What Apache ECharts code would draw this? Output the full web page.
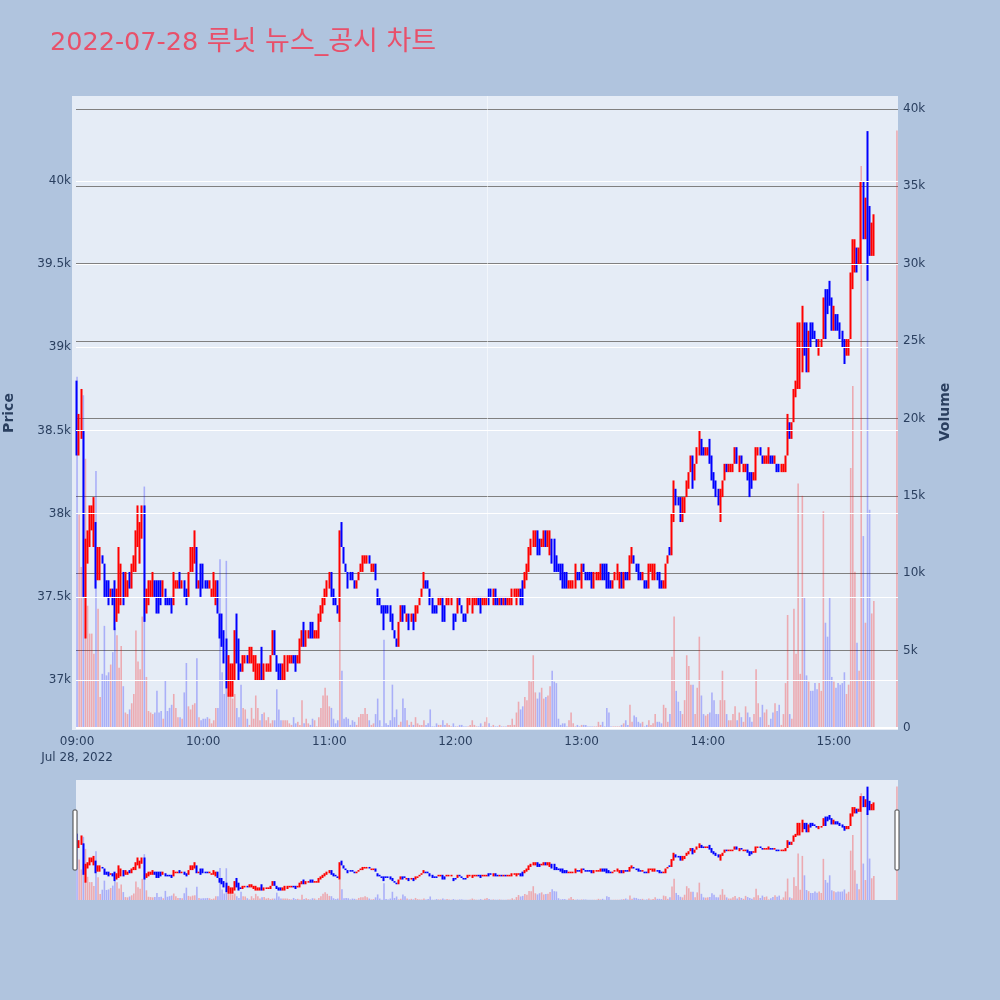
<!DOCTYPE html>
<html><head><meta charset="utf-8">
<script src="https://cdn.jsdelivr.net/npm/echarts@6/dist/echarts.min.js"></script>
<style>html,body{margin:0;padding:0;background:#b0c4de;}#chart{width:1000px;height:1000px;}</style>
</head><body><div id="chart"></div>
<script>
const titleDate = '2022-07-28';
const titleRest = ' 루닛 뉴스_공시 차트';
const dateLabel = 'Jul 28, 2022';
const sessionStartHour = 9, sessionEndHour = 15, sessionEndMinute = 30;
const priceTicks = [37000, 37500, 38000, 38500, 39000, 39500, 40000];
const newsTime = '12:15';

// per-minute candles [open, close, low, high]
const ohlc09 = [
[38750,38350,38350,38800],[38400,38600,38350,38600],[38450,38750,38450,38750],[38500,37500,37500,38500],[37550,37850,37250,37850],
[37750,37900,37700,37900],[37800,38050,37800,38050],[37950,38050,37900,38050],[37800,38100,37800,38100],[37950,37550,37550,37950],
[37600,37800,37600,37800],[37600,37800,37600,37800],[37750,37700,37700,37750],[37700,37500,37500,37700],[37600,37500,37500,37600],
[37600,37500,37450,37600],[37500,37550,37500,37550],[37550,37450,37450,37550],[37600,37300,37300,37600],[37350,37550,37350,37550],
[37400,37800,37400,37800],[37450,37700,37450,37700],[37650,37450,37450,37650],[37500,37650,37500,37650],[37500,37600,37500,37600],
[37650,37550,37550,37650],[37550,37700,37550,37700],[37650,37750,37650,37750],[37650,37900,37650,37900],[37800,38050,37800,38050],
[37700,37950,37700,37950],[37850,38050,37850,38050],[38050,37350,37350,38050],[37400,37550,37400,37550],[37450,37600,37450,37600],
[37500,37600,37500,37600],[37500,37650,37500,37650],[37600,37500,37500,37600],[37600,37400,37400,37600],[37600,37400,37400,37600],
[37600,37450,37450,37600],[37500,37600,37500,37600],[37550,37450,37450,37550],[37500,37450,37450,37500],[37500,37450,37450,37500],
[37500,37400,37400,37500],[37450,37650,37450,37650],[37550,37600,37550,37600],[37550,37600,37550,37600],[37650,37550,37550,37650],
[37550,37600,37550,37600],[37600,37500,37500,37600],[37550,37450,37450,37550],[37500,37650,37500,37650],[37650,37800,37650,37800],
[37650,37800,37650,37800],[37700,37900,37700,37900],[37800,37550,37550,37800],[37550,37600,37550,37600],[37700,37500,37500,37700]];
const ohlc10 = [
[37700,37550,37550,37700],[37600,37550,37550,37600],[37600,37550,37550,37600],[37550,37600,37550,37600],[37500,37550,37500,37550],
[37500,37650,37500,37650],[37450,37600,37450,37600],[37600,37400,37400,37600],[37400,37250,37250,37400],[37400,37200,37200,37400],
[37300,37100,37100,37300],[37250,36950,36950,37250],[36900,37150,36900,37150],[36900,37100,36900,37100],[36900,37100,36900,37100],
[37000,37300,37000,37300],[37400,37100,37100,37400],[37250,37000,37000,37250],[37100,37050,37050,37100],[37050,37150,37050,37150],
[37100,37150,37100,37150],[37150,37100,37100,37150],[37100,37200,37100,37200],[37100,37200,37100,37200],[37050,37150,37050,37150],
[37000,37150,37000,37150],[37000,37100,37000,37100],[37000,37100,37000,37100],[37200,37000,37000,37200],[37000,37100,37000,37100],
[37050,37100,37050,37100],[37050,37100,37050,37100],[37050,37150,37050,37150],[37150,37300,37150,37300],[37300,37150,37150,37300],
[37150,37050,37050,37150],[37100,37000,37000,37100],[37100,37000,37000,37100],[37000,37100,37000,37100],[37000,37150,37000,37150],
[37050,37150,37050,37150],[37100,37150,37100,37150],[37100,37150,37100,37150],[37150,37100,37100,37150],[37150,37050,37050,37150],
[37100,37150,37100,37150],[37100,37250,37100,37250],[37200,37300,37200,37300],[37350,37200,37200,37350],[37200,37300,37200,37300],
[37250,37300,37250,37300],[37350,37250,37250,37350],[37350,37250,37250,37350],[37250,37300,37250,37300],[37250,37300,37250,37300],
[37250,37400,37250,37400],[37350,37450,37350,37450],[37400,37500,37400,37500],[37450,37550,37450,37550],[37500,37600,37500,37600]];
const ohlc11 = [
[37550,37650,37550,37650],[37650,37500,37500,37650],[37550,37450,37450,37550],[37500,37450,37450,37500],[37450,37400,37400,37450],
[37350,37900,37350,37900],[37950,37800,37800,37950],[37800,37700,37700,37800],[37700,37650,37650,37700],[37650,37550,37550,37650],
[37650,37600,37600,37650],[37650,37600,37600,37650],[37600,37550,37550,37600],[37550,37600,37550,37600],[37600,37650,37600,37650],
[37650,37700,37650,37700],[37650,37750,37650,37750],[37700,37750,37700,37750],[37700,37750,37700,37750],[37750,37700,37700,37750],
[37650,37700,37650,37700],[37650,37700,37650,37700],[37700,37600,37600,37700],[37550,37450,37450,37550],[37500,37450,37450,37500],
[37450,37400,37400,37450],[37450,37300,37300,37450],[37450,37400,37400,37450],[37450,37400,37400,37450],[37450,37350,37350,37450],
[37400,37300,37300,37400],[37300,37250,37250,37300],[37250,37200,37200,37250],[37200,37350,37200,37350],[37350,37450,37350,37450],
[37450,37350,37350,37450],[37450,37400,37400,37450],[37350,37400,37350,37400],[37400,37300,37300,37400],[37350,37400,37350,37400],
[37400,37300,37300,37400],[37350,37450,37350,37450],[37400,37450,37400,37450],[37450,37500,37450,37500],[37500,37550,37500,37550],
[37550,37650,37550,37650],[37600,37550,37550,37600],[37600,37550,37550,37600],[37550,37450,37450,37550],[37500,37400,37400,37500],
[37450,37400,37400,37450],[37450,37400,37400,37450],[37450,37500,37450,37500],[37450,37500,37450,37500],[37500,37350,37350,37500],
[37450,37350,37350,37450],[37450,37500,37450,37500],[37450,37500,37450,37500],[37450,37500,37450,37500],[37400,37300,37300,37400]];
const ohlc12 = [
[37400,37350,37350,37400],[37400,37500,37400,37500],[37500,37450,37450,37500],[37450,37400,37400,37450],[37400,37350,37350,37400],
[37400,37350,37350,37400],[37400,37500,37400,37500],[37450,37500,37450,37500],[37400,37500,37400,37500],[37450,37500,37450,37500],
[37450,37500,37450,37500],[37500,37450,37450,37500],[37500,37400,37400,37500],[37450,37500,37450,37500],[37450,37500,37450,37500],
[37450,37500,37450,37500],[37550,37450,37450,37550],[37550,37500,37500,37550],[37450,37550,37450,37550],[37550,37450,37450,37550],
[37500,37450,37450,37500],[37450,37500,37450,37500],[37500,37450,37450,37500],[37450,37500,37450,37500],[37500,37450,37450,37500],
[37450,37500,37450,37500],[37450,37500,37450,37500],[37450,37550,37450,37550],[37500,37550,37500,37550],[37450,37550,37450,37550],
[37500,37550,37500,37550],[37550,37450,37450,37550],[37600,37450,37450,37600],[37550,37650,37550,37650],[37600,37700,37600,37700],
[37650,37800,37650,37800],[37750,37850,37750,37850],[37800,37900,37800,37900],[37800,37900,37800,37900],[37900,37750,37750,37900],
[37850,37750,37750,37850],[37800,37850,37800,37850],[37800,37900,37800,37900],[37900,37800,37800,37900],[37800,37900,37800,37900],
[37750,37900,37750,37900],[37850,37700,37700,37850],[37850,37650,37650,37850],[37750,37650,37650,37750],[37700,37650,37650,37700],
[37700,37600,37600,37700],[37700,37550,37550,37700],[37650,37550,37550,37650],[37650,37550,37550,37650],[37550,37600,37550,37600],
[37550,37600,37550,37600],[37550,37600,37550,37600],[37550,37700,37550,37700],[37650,37600,37600,37650],[37650,37600,37600,37650]];
const ohlc13 = [
[37550,37700,37550,37700],[37700,37650,37650,37700],[37650,37600,37600,37650],[37650,37600,37600,37650],[37650,37600,37600,37650],
[37650,37550,37550,37650],[37550,37650,37550,37650],[37600,37650,37600,37650],[37600,37650,37600,37650],[37600,37700,37600,37700],
[37700,37600,37600,37700],[37700,37600,37600,37700],[37700,37550,37550,37700],[37650,37550,37550,37650],[37600,37550,37550,37600],
[37550,37600,37550,37600],[37600,37650,37600,37650],[37600,37700,37600,37700],[37550,37650,37550,37650],[37650,37550,37550,37650],
[37550,37650,37550,37650],[37650,37600,37600,37650],[37650,37600,37600,37650],[37600,37750,37600,37750],[37700,37750,37700,37800],
[37750,37700,37700,37750],[37700,37650,37650,37700],[37700,37600,37600,37700],[37650,37600,37600,37650],[37600,37650,37600,37650],
[37600,37550,37550,37600],[37600,37550,37550,37600],[37550,37700,37550,37700],[37650,37700,37650,37700],[37600,37700,37600,37700],
[37600,37700,37600,37700],[37650,37600,37600,37650],[37650,37550,37550,37650],[37600,37550,37550,37600],[37550,37600,37550,37600],
[37550,37700,37550,37700],[37700,37750,37700,37750],[37800,37750,37750,37800],[37750,38000,37750,38000],[37950,38200,37950,38200],
[38150,38050,38050,38150],[38100,38050,38050,38100],[38100,37950,37950,38100],[37950,38100,37950,38100],[38000,38100,38000,38100],
[38100,38200,38100,38200],[38150,38250,38150,38250],[38250,38350,38250,38350],[38350,38150,38150,38350],[38200,38300,38200,38300],
[38300,38400,38300,38400],[38350,38500,38350,38500],[38450,38350,38350,38450],[38400,38350,38350,38400],[38350,38400,38350,38400]];
const ohlc14 = [
[38350,38400,38350,38400],[38450,38300,38300,38450],[38350,38200,38200,38350],[38250,38150,38150,38250],[38200,38100,38100,38200],
[38150,38050,38050,38150],[38000,38150,37950,38150],[38100,38200,38100,38200],[38200,38300,38200,38300],[38300,38250,38250,38300],
[38250,38300,38250,38300],[38250,38300,38250,38300],[38250,38300,38250,38300],[38300,38400,38300,38400],[38400,38300,38300,38400],
[38250,38350,38250,38350],[38350,38300,38300,38350],[38250,38300,38250,38300],[38250,38300,38250,38300],[38300,38200,38200,38300],
[38250,38100,38100,38250],[38250,38150,38150,38250],[38200,38250,38200,38250],[38200,38400,38200,38400],[38350,38400,38350,38400],
[38400,38350,38350,38400],[38350,38300,38300,38350],[38300,38350,38300,38350],[38300,38350,38300,38350],[38300,38400,38300,38400],
[38350,38300,38300,38350],[38350,38300,38300,38350],[38300,38350,38300,38350],[38300,38250,38250,38300],[38300,38250,38250,38300],
[38250,38300,38250,38300],[38250,38300,38250,38300],[38250,38350,38250,38350],[38350,38600,38350,38600],[38550,38450,38450,38550],
[38450,38550,38450,38550],[38550,38750,38550,38750],[38700,38800,38700,38800],[38750,39000,38750,39150],[38750,39150,38750,39150],
[38850,39250,38850,39250],[39150,38950,38950,39150],[39150,38850,38850,39150],[38850,39100,38850,39100],[39150,39000,39000,39150],
[39150,39050,39050,39150],[39100,39050,39050,39100],[39050,39000,39000,39050],[38950,39050,38950,39050],[39000,39050,39000,39050],
[39050,39300,39050,39300],[39350,39050,39050,39350],[39350,39200,39200,39350],[39300,39250,39250,39400],[39300,39100,39100,39300]];
const ohlc15 = [
[39100,39250,39100,39250],[39200,39100,39100,39200],[39200,39100,39100,39200],[39150,39050,39050,39150],[39100,39000,39000,39100],
[39050,38950,38900,39050],[38950,39050,38950,39050],[38950,39050,38950,39050],[39050,39450,39050,39450],[39350,39650,39350,39650],
[39450,39650,39450,39650],[39600,39450,39450,39600],[39500,39600,39500,39600],[39500,39950,39500,40000],[40000,39650,39650,40000],
[39650,39900,39650,39900],[39850,39400,39400,40300],[39850,39550,39550,39850],[39550,39750,39550,39750],[39550,39800,39550,39800]];
const closingAuctionTime = '15:30';
const closingAuction = [39950, 39950, 39950, 39950];

// per-minute volume, thousands of shares
const vol09 = [22.7,13.8,10.4,21.5,17.4,7.9,6.1,6.1,4.8,16.6,7.7,2.0,3.5,6.6,3.4,3.6,4.1,4.9,6.5,6.0,
3.9,5.3,2.7,1.0,0.9,1.2,1.6,2.2,6.3,4.3,3.8,7.2,15.6,3.3,1.1,1.0,0.9,1.0,2.4,1.0,
1.1,0.6,3.1,1.1,1.3,1.5,2.2,1.3,0.7,0.7,0.6,2.3,4.2,1.4,1.2,1.5,1.6,4.5,0.7,0.5];
const vol10 = [0.6,0.6,0.7,0.6,0.3,0.5,1.3,1.3,10.9,3.6,2.2,10.8,2.3,2.2,1.9,2.2,1.3,0.7,2.8,1.3,
1.2,0.6,0.2,1.3,0.6,2.1,1.3,0.5,0.9,1.0,0.5,0.7,0.3,0.5,0.5,2.5,1.2,0.5,0.5,0.5,
0.5,0.3,0.2,0.7,0.3,0.4,0.2,1.8,0.3,0.6,0.3,0.2,0.6,0.5,0.1,0.7,1.3,2.1,2.6,2.1];
const vol11 = [1.4,1.3,0.6,0.3,0.5,6.9,3.7,0.6,0.7,0.6,0.2,0.5,0.4,0.2,0.7,0.9,0.9,1.3,0.9,0.5,
0.2,0.3,0.9,1.9,0.5,0.1,5.7,0.3,0.2,0.5,2.8,0.7,1.2,0.2,0.4,1.9,1.3,0.5,0.2,0.4,
0.2,0.7,0.3,0.2,0.2,0.5,0.2,0.3,1.2,0.1,0.1,0.3,0.2,0.2,0.5,0.2,0.3,0.2,0.1,0.3];
const vol12 = [0.1,0.1,0.2,0.2,0.1,0.1,0.1,0.2,0.5,0.2,0.1,0.1,0.3,0.1,0.4,0.7,0.3,0.1,0.2,0.1,
0.1,0.2,0.1,0.1,0.1,0.2,0.2,0.6,0.2,1.0,1.7,1.2,1.4,2.0,1.8,3.1,3.0,4.7,2.3,1.9,
2.3,2.6,1.9,2.0,2.1,2.7,3.7,3.0,2.9,0.6,0.2,0.3,0.3,0.1,0.5,1.0,0.3,0.1,0.2,0.1];
const vol13 = [0.2,0.2,0.2,0.1,0.1,0.1,0.1,0.1,0.4,0.2,0.4,0.1,1.3,1.0,0.1,0.1,0.1,0.1,0.1,0.2,
0.3,0.5,0.2,1.5,0.4,0.8,0.7,0.4,0.3,0.4,0.1,0.2,0.5,0.2,0.3,0.9,0.4,0.4,0.3,1.5,
1.3,0.4,0.9,4.6,7.2,2.4,1.7,1.1,0.9,1.8,4.7,4.0,2.8,2.8,0.9,2.6,5.9,2.1,0.9,0.8];
const vol14 = [0.9,1.0,2.3,1.8,0.9,0.9,1.8,3.7,1.8,0.9,0.5,0.5,0.9,1.4,0.5,1.0,0.7,0.4,1.4,1.0,
0.7,0.4,0.9,3.8,1.6,0.7,1.5,1.0,1.2,0.2,0.6,1.0,1.6,1.1,1.5,0.2,0.9,2.9,7.3,0.9,
0.6,7.7,4.8,15.8,3.5,15.0,8.4,3.4,3.0,2.4,2.4,2.9,2.5,2.9,2.4,14.0,6.8,5.9,8.4,3.3];
const vol15 = [3.0,2.6,2.9,2.8,2.9,3.6,2.2,2.8,16.8,22.1,10.1,5.5,3.7,36.3,12.4,6.8,29.6,14.1,7.4,8.2];
const closingAuctionVol = 38.6;

// ---- build
const pad = n => String(n).padStart(2, '0');
const categories = [];
for (let h = sessionStartHour; h <= sessionEndHour; h++) {
  for (let m = 0; m < 60; m++) {
    if (h === sessionEndHour && m > sessionEndMinute) break;
    categories.push(pad(h) + ':' + pad(m));
  }
}
const candles = [].concat(ohlc09, ohlc10, ohlc11, ohlc12, ohlc13, ohlc14, ohlc15);
const vols = [].concat(vol09, vol10, vol11, vol12, vol13, vol14, vol15);
const UP = '#ff0000', DOWN = '#0000ff';
const UPV = 'rgba(255,0,0,0.28)', DOWNV = 'rgba(0,0,255,0.26)';
const candleData = categories.map(() => '-');
const volData = categories.map(() => '-');
candles.forEach((c, i) => {
  candleData[i] = c;
  volData[i] = { value: vols[i], itemStyle: { color: c[1] >= c[0] ? UPV : DOWNV } };
});
const ca = categories.indexOf(closingAuctionTime);
candleData[ca] = { value: closingAuction, itemStyle: { color: UP, borderColor: UP, color0: UP, borderColor0: UP } };
volData[ca] = { value: closingAuctionVol, itemStyle: { color: UPV } };

const FONT = '"DejaVu Sans", Verdana, "Noto Sans CJK KR", sans-serif';
const TXT = '#2a3f5f';
const TITLE_COLOR = '#e8506a';
const PMIN = 36700, PMAX = 40511, VMAX = 40.83;
const L = 76, W = 822;

const xBase = (gi, showLabels) => ({
  type: 'category', gridIndex: gi, data: categories, boundaryGap: true,
  axisLine: { show: false }, axisTick: { show: false }, splitLine: { show: false },
  axisLabel: showLabels ? {
    show: true, interval: (i) => i % 60 === 0, color: TXT, fontSize: 12, fontFamily: FONT,
    margin: 4, lineHeight: 16,
    formatter: (v, i) => i === 0 ? v + '\n' + dateLabel : v
  } : { show: false }
});

const candleStyle = { color: UP, color0: DOWN, borderColor: UP, borderColor0: DOWN, borderWidth: 2 };
const gridBase = { containLabel: false, outerBoundsMode: 'none' };

const option = {
  backgroundColor: '#b0c4de',
  animation: false,
  title: {
    text: '{d|' + titleDate + '}{k|' + titleRest + '}', left: 45, top: 24,
    textStyle: {
      color: TITLE_COLOR, fontSize: 26, fontWeight: 'normal', fontFamily: FONT,
      rich: {
        d: { color: TITLE_COLOR, fontSize: 25.5, fontFamily: FONT, verticalAlign: 'bottom' },
        k: { color: TITLE_COLOR, fontSize: 27, fontFamily: FONT, verticalAlign: 'bottom' }
      }
    }
  },
  grid: [
    Object.assign({ left: L, width: W, top: 96, height: 634 }, gridBase),
    Object.assign({ left: L, width: W, top: 96, height: 632 }, gridBase),
    Object.assign({ left: L, width: W, top: 780, height: 120 }, gridBase),
    Object.assign({ left: L, width: W, top: 780, height: 120 }, gridBase)
  ],
  xAxis: [xBase(0, true), xBase(1, false), xBase(2, false), xBase(3, false)],
  yAxis: [
    { type: 'value', gridIndex: 0, min: PMIN, max: PMAX, interval: 100, position: 'left',
      name: 'Price', nameLocation: 'middle', nameGap: 60, nameRotate: 90,
      nameTextStyle: { color: TXT, fontSize: 14, fontWeight: 'bold', fontFamily: FONT },
      axisLine: { show: false }, axisTick: { show: false }, splitLine: { show: false },
      axisLabel: { color: TXT, fontSize: 12, fontFamily: FONT, margin: 5,
        formatter: v => (priceTicks.indexOf(Math.round(v)) >= 0) ? (Math.round(v) / 1000) + 'k' : '' } },
    { type: 'value', gridIndex: 1, min: 0, max: VMAX, interval: 5, position: 'right',
      name: 'Volume', nameLocation: 'middle', nameGap: 40, nameRotate: 90,
      nameTextStyle: { color: TXT, fontSize: 14, fontWeight: 'bold', fontFamily: FONT },
      axisLine: { show: false }, axisTick: { show: false },
      splitLine: { show: true, showMinLine: false, showMaxLine: false, lineStyle: { color: '#808080', width: 1 } },
      axisLabel: { color: TXT, fontSize: 12, fontFamily: FONT, margin: 5,
        formatter: v => v === 0 ? '0' : (Math.abs(v % 5) < 1e-9 && v <= 40 ? v + 'k' : '') } },
    { type: 'value', gridIndex: 2, min: PMIN, max: PMAX, show: false, splitLine: { show: false } },
    { type: 'value', gridIndex: 3, min: 0, max: VMAX, show: false, splitLine: { show: false } }
  ],
  series: [
    { type: 'line', xAxisIndex: 0, yAxisIndex: 0, data: [], z: 1, silent: true,
      markLine: { silent: true, symbol: 'none', animation: false, label: { show: false },
        lineStyle: { color: '#ffffff', width: 1, type: 'solid' },
        data: priceTicks.map(v => ({ yAxis: v })).concat([{ xAxis: newsTime, lineStyle: { color: 'rgba(255,255,255,0.5)', width: 1, type: 'solid' } }]) } },
    { type: 'bar', xAxisIndex: 1, yAxisIndex: 1, data: volData, barWidth: 1.6, z: 2, silent: true,
      markLine: { silent: true, symbol: 'none', label: { show: false },
        lineStyle: { color: '#ffffff', width: 2, type: 'solid' }, data: [{ yAxis: 0 }] } },
    { type: 'candlestick', xAxisIndex: 0, yAxisIndex: 0, data: candleData, barWidth: 1.2, z: 3,
      itemStyle: candleStyle, silent: true },
    { type: 'bar', xAxisIndex: 3, yAxisIndex: 3, data: volData, barWidth: 1.6, z: 2, silent: true },
    { type: 'candlestick', xAxisIndex: 2, yAxisIndex: 2, data: candleData, barWidth: 1.2, z: 3,
      itemStyle: candleStyle, silent: true }
  ],
  graphic: [
    { type: 'rect', z: -100, shape: { x: 72, y: 96, width: 826, height: 634 }, style: { fill: '#e5ecf6' }, silent: true },
    { type: 'rect', z: -100, shape: { x: 76, y: 780, width: 822, height: 120 }, style: { fill: '#e5ecf6' }, silent: true },
    { type: 'rect', shape: { x: 73, y: 810, width: 4, height: 60, r: 1 }, style: { fill: '#ffffff', stroke: '#444', lineWidth: 1 }, z: 10, silent: true },
    { type: 'rect', shape: { x: 895, y: 810, width: 4, height: 60, r: 1 }, style: { fill: '#ffffff', stroke: '#444', lineWidth: 1 }, z: 10, silent: true }
  ]
};
const chart = echarts.init(document.getElementById('chart'), null, { renderer: 'canvas' });
chart.setOption(option);
</script></body></html>
